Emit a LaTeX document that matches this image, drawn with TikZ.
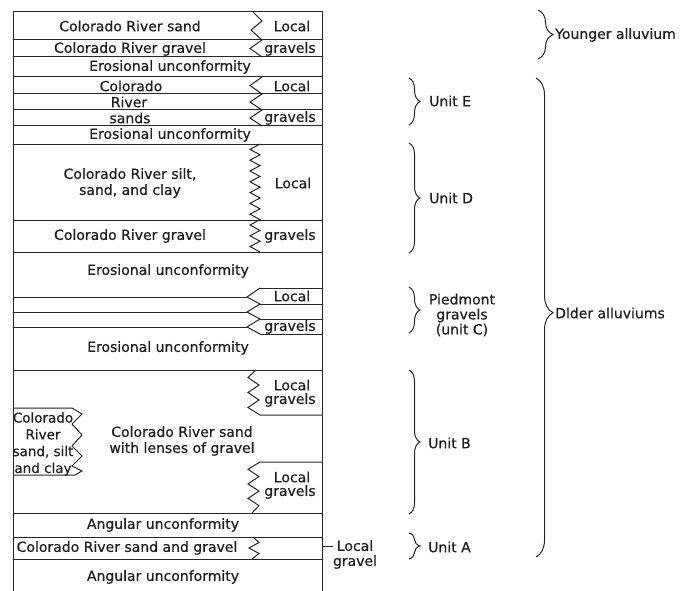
\documentclass[tikz,border=0pt]{standalone}
\usepackage{fontspec}
\setmainfont[FakeBold=0.6]{DejaVu Sans}
\usetikzlibrary{decorations.pathreplacing}
\begin{document}
\begin{tikzpicture}[x=1pt,y=-1pt,
  ln/.style={line width=1pt,draw=black!85,line join=miter},
  lbl/.style={inner sep=0pt,text=black!88,font=\fontsize{14}{16}\selectfont,align=center},
  sml/.style={inner sep=0pt,text=black!88,font=\fontsize{13.5}{16.8}\selectfont,align=center},
  brc/.style={line width=1pt,draw=black!85,decorate,decoration={brace,amplitude=#1}},
]
\useasboundingbox (0,0) rectangle (685,591);

% column sides
\draw[ln] (13,591) -- (13,12) -- (322,12) -- (322,591);

% ---- Younger alluvium
\draw[ln] (13,40) -- (322,40);
\draw[ln] (13,57) -- (322,57);
\draw[ln] (253,12) -- (262,21) -- (251,30) -- (262,40) -- (250,48.5) -- (262,57);
\node[lbl] (t1) at (130,26) {Colorado River sand};
\node[lbl] (t2) at (130,49) {Colorado River gravel};
\node[lbl] (t3) at (292,26) {Local};
\node[lbl] (t4) at (290,49) {gravels};
\node[lbl] (t5) at (170,67) {Erosional unconformity};

% ---- Unit E
\draw[ln] (13,77) -- (322,77);
\draw[ln] (13,94) -- (322,94);
\draw[ln] (13,110) -- (322,110);
\draw[ln] (13,126) -- (322,126);
\draw[ln] (262,77) -- (250,85.5) -- (262,94) -- (250,102) -- (262,110) -- (250,118) -- (262,126);
\node[lbl] (t6) at (131,86) {Colorado};
\node[lbl] (t7) at (129,102) {River};
\node[lbl] (t8) at (130,118) {sands};
\node[lbl] (t9) at (292,86) {Local};
\node[lbl] (t10) at (290,118) {gravels};
\node[lbl] (t11) at (170,135) {Erosional unconformity};

% ---- Unit D
\draw[ln] (13,144) -- (322,144);
\draw[ln] (13,220) -- (322,220);
\draw[ln] (13,252) -- (322,252);
\draw[ln] (260,144) -- (250,149.4) -- (260,154.8) -- (250,160.2) -- (260,165.6) -- (250,171) -- (260,176.4) -- (250,181.8) -- (260,187.2) -- (250,192.6) -- (260,198) -- (250,203.4) -- (260,208.8) -- (250,214.2) -- (260,219.6) -- (250,225) -- (260,230.4) -- (250,235.8) -- (260,241.2) -- (250,246.6) -- (260,252);
\node[lbl] (t12) at (130,183) {Colorado River silt,\\sand, and clay};
\node[lbl] (t13) at (293,183) {Local};
\node[lbl] (t14) at (130,236) {Colorado River gravel};
\node[lbl] (t15) at (290,236) {gravels};
\node[lbl] (t16) at (168,271) {Erosional unconformity};

% ---- Piedmont gravels (unit C)
\draw[ln] (13,297) -- (247,297);
\draw[ln] (13,312) -- (247,312);
\draw[ln] (13,327) -- (247,327);
\draw[ln] (260,288) -- (322,288);
\draw[ln] (260,304) -- (322,304);
\draw[ln] (260,319) -- (322,319);
\draw[ln] (260,334) -- (322,334);
\draw[ln] (260,288) -- (247,297) -- (260,304) -- (247,312) -- (260,319) -- (247,327) -- (260,334);
\node[lbl] (t17) at (292,296) {Local};
\node[lbl] (t18) at (290,327) {gravels};
\node[lbl] (t19) at (168,348) {Erosional unconformity};

% ---- Unit B
\draw[ln] (13,370) -- (322,370);
\draw[ln] (256,370) -- (248,377.5) -- (259,385) -- (248,392.5) -- (259,400) -- (248,407.5) -- (260,415) -- (322,415);
\draw[ln] (322,462) -- (260,462) -- (248,469.3) -- (259,476.6) -- (248,483.9) -- (259,491.1) -- (248,498.4) -- (259,505.7) -- (252,513);
\draw[ln] (13,408) -- (72,408) -- (82,414) -- (72,424) -- (82,435) -- (72,446) -- (82,456) -- (72,466) -- (82,471) -- (75,475) -- (13,475);
\node[lbl] (t20) at (292,385) {Local};
\node[lbl] (t21) at (290,400) {gravels};
\node[lbl] (t22) at (292,477) {Local};
\node[lbl] (t23) at (290,492) {gravels};
\node[lbl] (t24) at (182,441) {Colorado River sand\\with lenses of gravel};
\node[sml] (t25) at (43,444) {Colorado\\River\\sand, silt\\and clay};

% ---- Unit A
\draw[ln] (13,513) -- (322,513);
\draw[ln] (13,537) -- (322,537);
\draw[ln] (13,559) -- (322,559);
\draw[ln] (253,537) -- (259,542.5) -- (249,548) -- (259,553.5) -- (252,559);
\node[lbl] (t26) at (163,525) {Angular unconformity};
\node[lbl] (t27) at (127,548) {Colorado River sand and gravel};
\node[lbl] (t28) at (163,577) {Angular unconformity};
\node[lbl,font=\fontsize{14}{15}\selectfont] (lg) at (355,554.5) {Local\\gravel};
\coordinate (lgs) at (322,546);
\draw[ln] (lgs) -- (lgs -| lg.west);

% ---- braces
\draw[brc=15pt] (538,10) -- (538,59);
\node[lbl,anchor=west] (ya) at (555,35) {Younger alluvium};
\draw[brc=17pt,decoration={aspect=0.49}] (536,78) -- (536,557);
\node[lbl,anchor=west] (oa) at (555,313) {Dlder alluviums};
\draw[brc=11pt] (409,78) -- (409,125);
\node[lbl,anchor=west] (ue) at (429,101) {Unit E};
\draw[brc=11pt] (409,143) -- (409,253);
\node[lbl,anchor=west] (ud) at (429,198) {Unit D};
\draw[brc=11pt] (409,287) -- (409,333);
\node[lbl,font=\fontsize{14}{15}\selectfont] (uc) at (462,315) {Piedmont\\gravels\\(unit C)};
\draw[brc=11pt] (409,370) -- (409,514);
\node[lbl,anchor=west] (ub) at (428,443) {Unit B};
\draw[brc=11pt] (409,533) -- (409,559);
\node[lbl,anchor=west] (ua) at (428,547) {Unit A};
\end{tikzpicture}
\end{document}
